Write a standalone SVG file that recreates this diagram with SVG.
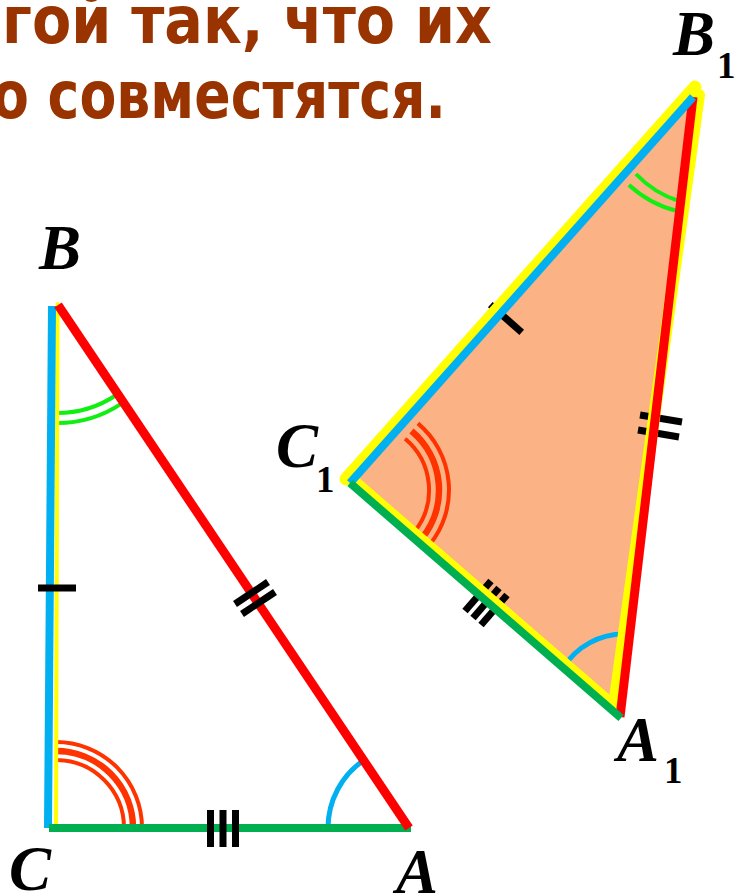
<svg xmlns="http://www.w3.org/2000/svg" width="735" height="895" viewBox="0 0 735 895">
<style>
.title{font-family:"DejaVu Sans","Noto Sans",sans-serif;font-weight:bold;font-size:65px;fill:#993300}
.lbl{font-family:"Liberation Serif","Times New Roman",serif;font-weight:bold;font-style:italic;font-size:63px;fill:#000}
.sub{font-family:"Liberation Serif","Times New Roman",serif;font-weight:bold;font-size:37px;fill:#000}
.ln{fill:none;stroke-linecap:butt}
.blue{stroke:#00B0F0;stroke-width:8}
.red{stroke:#FF0000;stroke-width:9}
.green{stroke:#00B050;stroke-width:8}
.yel{stroke:#FFFF00;stroke-linecap:round;fill:none}
.arcO{fill:none;stroke:#FF3300}
.arcG{fill:none;stroke:#11EE11;stroke-width:4}
.arcB{fill:none;stroke:#00B0F0;stroke-width:5}
.tick{stroke:#000;stroke-width:7;fill:none}
</style>

<g id="title">
<text class="title" x="2" y="43" textLength="490" lengthAdjust="spacingAndGlyphs">гой так, что их</text>
<text class="title" x="-8" y="118" textLength="454" lengthAdjust="spacingAndGlyphs">о совместятся.</text>
</g>

<g id="triangle-ABC">
<path class="arcO" stroke-width="4" d="M56,760 A68,68 0 0 1 124,828"/>
<path class="arcO" stroke-width="6.5" d="M56,751 A77,77 0 0 1 133,828"/>
<path class="arcO" stroke-width="4" d="M56,742 A86,86 0 0 1 142,828"/>
<path class="arcG" d="M57,413 A106,106 0 0 0 116.3,395"/>
<path class="arcG" d="M57,423 A116,116 0 0 0 121.8,403.3"/>
<path class="arcB" d="M328,828 A82,82 0 0 1 364.2,760"/>
<line class="yel" x1="57.5" y1="304" x2="56" y2="828" stroke-width="4" stroke-linecap="butt"/>
<line class="ln blue" x1="52" y1="306" x2="48" y2="828"/>
<line class="ln green" x1="49" y1="828" x2="411" y2="828"/>
<line class="ln red" x1="58" y1="305" x2="409" y2="828"/>
<line class="tick" x1="38" y1="588" x2="76" y2="588"/>
<line class="tick" x1="235" y1="604" x2="268" y2="582" stroke-width="6"/>
<line class="tick" x1="242" y1="614" x2="275" y2="592" stroke-width="6"/>
<line class="tick" x1="210.5" y1="810" x2="210.5" y2="847"/>
<line class="tick" x1="223" y1="810" x2="223" y2="847"/>
<line class="tick" x1="235.5" y1="810" x2="235.5" y2="847"/>
</g>

<g id="label-B"><text class="lbl" x="39" y="269">B</text></g>
<g id="label-C"><text class="lbl" x="9" y="890">C</text></g>
<g id="label-A"><text class="lbl" x="396" y="893">A</text></g>

<g id="triangle-A1B1C1">
<polygon points="356,481 692,95 617,710" fill="#FBB385"/>
<path class="arcO" stroke-width="4" d="M405.1,438.7 A67,67 0 0 1 414.1,532.2"/>
<path class="arcO" stroke-width="6.5" d="M411.5,431 A77,77 0 0 1 421.8,538.5"/>
<path class="arcO" stroke-width="4" d="M417.9,423.4 A87,87 0 0 1 429.6,544.8"/>
<path class="arcG" d="M636,174 A100,100 0 0 0 679,201"/>
<path class="arcG" d="M629,185 A110,110 0 0 0 677,211"/>
<path class="arcB" d="M563,668 A72,72 0 0 1 626,634"/>
<line class="tick" x1="490.3" y1="304.6" x2="521.7" y2="332.4"/>
<line class="tick" x1="640" y1="415" x2="682" y2="422"/>
<line class="tick" x1="638" y1="430" x2="679" y2="437"/>
<line class="tick" x1="465" y1="611" x2="491" y2="581" stroke-width="6"/>
<line class="tick" x1="473" y1="618" x2="499" y2="588" stroke-width="6"/>
<line class="tick" x1="481" y1="625" x2="507" y2="595" stroke-width="6"/>
<line class="yel" x1="346" y1="479" x2="695" y2="87" stroke-width="13"/>
<line class="yel" x1="699" y1="95" x2="614" y2="705" stroke-width="12"/>
<line class="yel" x1="355" y1="479" x2="616" y2="705" stroke-width="7"/>
<line class="ln red" x1="693" y1="97" x2="620" y2="717"/>
<line class="ln blue" x1="350" y1="483" x2="693" y2="97"/>
<line class="ln green" x1="350" y1="483" x2="621" y2="718"/>
</g>

<g id="label-B1"><text class="lbl" x="673" y="55">B</text><text class="sub" x="717" y="78">1</text></g>
<g id="label-C1"><text class="lbl" x="276" y="467">C</text><text class="sub" x="316" y="492">1</text></g>
<g id="label-A1"><text class="lbl" x="617" y="761">A</text><text class="sub" x="664" y="783">1</text></g>
</svg>
